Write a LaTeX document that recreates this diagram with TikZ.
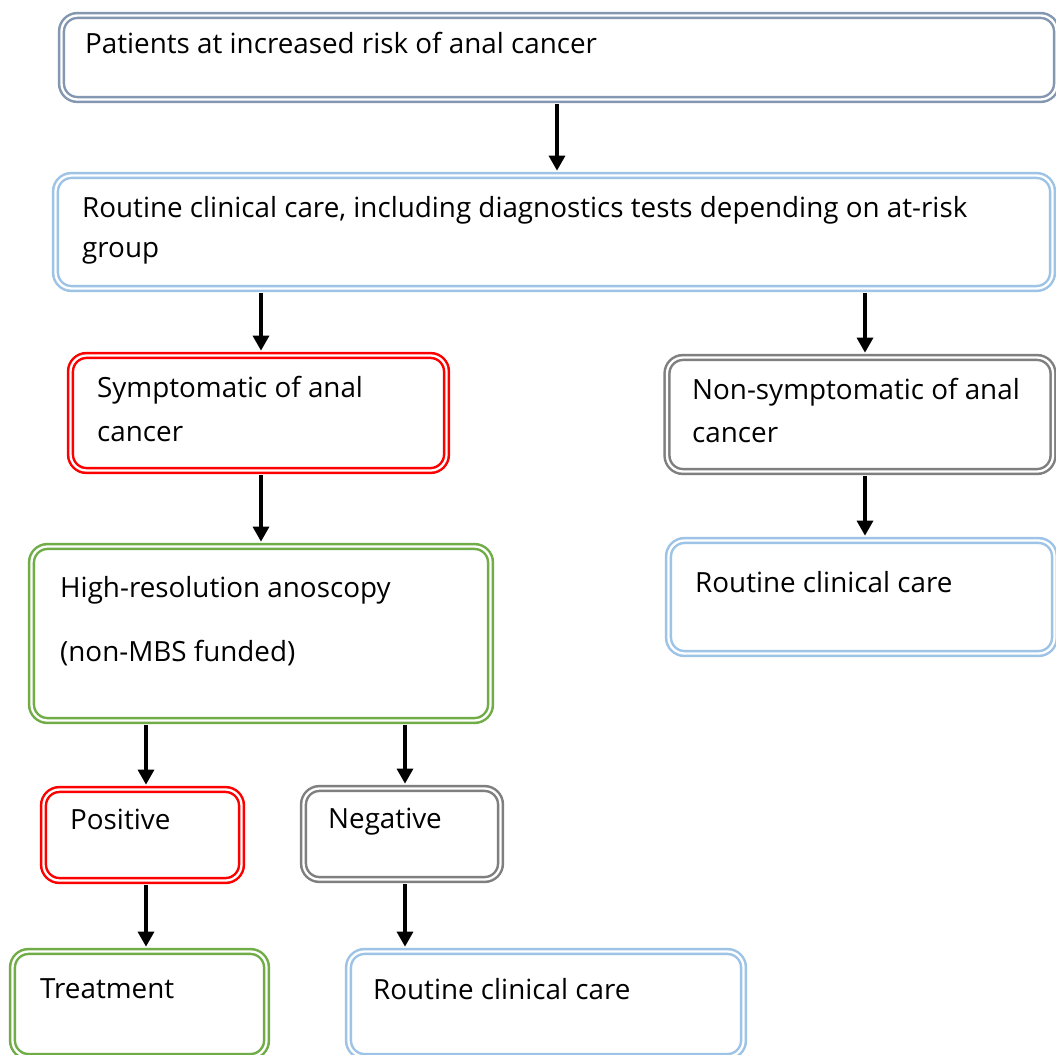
\documentclass[tikz,border=0pt]{standalone}
\usepackage{fontspec}
\setmainfont{Open Sans}
\usetikzlibrary{arrows.meta}
\definecolor{topc}{HTML}{8497B0}
\definecolor{lblue}{HTML}{9DC3E6}
\definecolor{redc}{HTML}{FF0000}
\definecolor{grayc}{HTML}{7F7F7F}
\definecolor{greenc}{HTML}{70AD47}
\tikzset{
  box/.style={draw=#1, double=white, line width=2.5pt, double distance=2.3pt,
    rounded corners=16pt, inner sep=0pt, shape=rectangle},
  txt/.style={anchor=north west, inner sep=0pt, align=left, font=\fontsize{27.8}{#1}\selectfont},
  txt/.default=44,
  arr/.style={line width=3.2pt, -{Triangle[width=16pt,length=15pt]}, shorten <=3.6pt, shorten >=3.6pt}
}
\begin{document}
\begin{tikzpicture}[x=1pt,y=-1pt]
\useasboundingbox (0,0) rectangle (1056,1054);
\fill[white] (0,0) rectangle (1056,1054);
% boxes
\node[box=topc, minimum width=995pt, minimum height=84pt] (top) at (559,57.5) {};
\node[box=lblue, minimum width=997pt, minimum height=113pt] (care) at (554,232) {};
\node[box=redc, minimum width=376pt, minimum height=115pt] (symp) at (258.5,413) {};
\node[box=grayc, minimum width=386pt, minimum height=114pt] (nonsymp) at (860,414.5) {};
\node[box=greenc, minimum width=459pt, minimum height=174pt] (hra) at (261,633.5) {};
\node[box=lblue, minimum width=386pt, minimum height=113pt] (routineR) at (861.5,597) {};
\node[box=redc, minimum width=198pt, minimum height=91pt] (pos) at (142.5,835) {};
\node[box=grayc, minimum width=197pt, minimum height=91pt] (neg) at (402,834) {};
\node[box=greenc, minimum width=254pt, minimum height=105pt] (treat) at (139.5,1004) {};
\node[box=lblue, minimum width=395pt, minimum height=105pt] (routineB) at (546,1004) {};
% texts
\node[txt] (ttop) at (85,32) {Patients at increased risk of anal cancer};
\node[txt=40] (tcare) at (82,196) {Routine clinical care, including diagnostics tests depending on at-risk\\group};
\node[txt=44] (tsymp) at (97,376) {Symptomatic of anal\\cancer};
\node[txt=43] (tnonsymp) at (692,378) {Non-symptomatic of anal\\cancer};
\node[txt=64] (thra) at (60,576) {High-resolution anoscopy\\(non-MBS funded)};
\node[txt] (troutineR) at (695,571) {Routine clinical care};
\node[txt] (tpos) at (70,809) {Positive};
\node[txt] (tneg) at (328,808) {Negative};
\node[txt] (ttreat) at (40,978) {Treatment};
\node[txt] (troutineB) at (373,978) {Routine clinical care};
% arrows
\draw[arr] ([xshift=-2pt]top.south) -- ([xshift=-2pt]top.south |- care.north);
\draw[arr] ([xshift=2.5pt]symp.north |- care.south) -- ([xshift=2.5pt]symp.north);
\draw[arr] ([xshift=5pt]nonsymp.north |- care.south) -- ([xshift=5pt]nonsymp.north);
\draw[arr] ([xshift=2.5pt]symp.south) -- ([xshift=2.5pt]symp.south |- hra.north);
\draw[arr] ([xshift=5pt]nonsymp.south) -- ([xshift=5pt]nonsymp.south |- routineR.north);
\draw[arr] ([xshift=3.5pt]pos.north |- hra.south) -- ([xshift=3.5pt]pos.north);
\draw[arr] ([xshift=3pt]neg.north |- hra.south) -- ([xshift=3pt]neg.north);
\draw[arr] ([xshift=3.5pt]pos.south) -- ([xshift=3.5pt]pos.south |- treat.north);
\draw[arr] ([xshift=3pt]neg.south) -- ([xshift=3pt]neg.south |- routineB.north);
\end{tikzpicture}
\end{document}
